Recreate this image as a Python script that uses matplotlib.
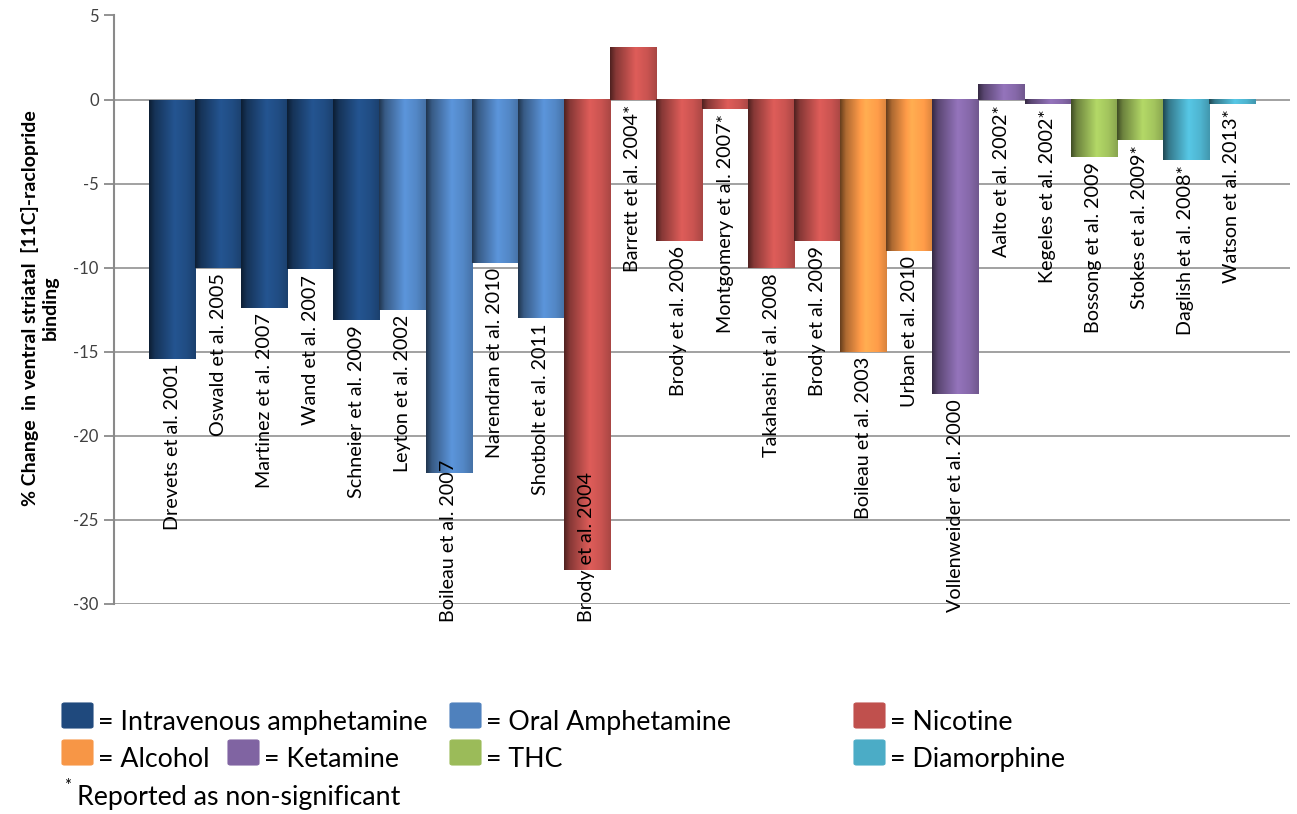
import matplotlib
matplotlib.use("Agg")
import matplotlib.pyplot as plt
import matplotlib.patches as mpatches
import numpy as np
from matplotlib.colors import to_rgb

plt.rcParams["font.family"] = ["Lato", "DejaVu Sans"]
plt.rcParams["axes.unicode_minus"] = False

# ---- data ----
studies = [
    "Drevets et al. 2001", "Oswald et al. 2005", "Martinez et al. 2007",
    "Wand et al. 2007", "Schneier et al. 2009", "Leyton et al. 2002",
    "Boileau et al. 2007", "Narendran et al. 2010", "Shotbolt et al. 2011",
    "Brody et al. 2004", "Barrett et al. 2004*", "Brody et al. 2006",
    "Montgomery et al. 2007*", "Takahashi et al. 2008", "Brody et al. 2009",
    "Boileau et al. 2003", "Urban et al. 2010", "Vollenweider et al. 2000",
    "Aalto et al. 2002*", "Kegeles et al. 2002*", "Bossong et al. 2009",
    "Stokes et al. 2009*", "Daglish et al. 2008*", "Watson et al. 2013*",
]
changes = [
    -15.4, -10.0, -12.4, -10.1, -13.1, -12.5, -22.2, -9.7, -13.0,
    -28.0, 3.1, -8.4, -0.55, -10.0, -8.4,
    -15.0, -9.0,
    -17.5, 0.9, -0.25,
    -3.4, -2.4,
    -3.6, -0.25,
]
drug_of_study = [0, 0, 0, 0, 0, 1, 1, 1, 1, 2, 2, 2, 2, 2, 2, 3, 3, 4, 4, 4, 5, 5, 6, 6]

drugs = ["Intravenous amphetamine", "Oral Amphetamine", "Nicotine", "Alcohol",
         "Ketamine", "THC", "Diamorphine"]
drug_colors = ["#1F497D", "#4F81BD", "#C0504D", "#F79646", "#8064A2", "#9BBB59", "#4BACC6"]

y_ticks = [5, 0, -5, -10, -15, -20, -25, -30]

grid_color = "#9A9A9A"
text_color = "#404040"

fig = plt.figure(figsize=(12.97, 8.14), dpi=100)
ax = fig.add_axes([114 / 1297, 210 / 814, 1176 / 1297, 588.5 / 814])

x = np.arange(len(studies))
bars = ax.bar(x, changes, width=1.0, color=[drug_colors[d] for d in drug_of_study],
              linewidth=0, zorder=2)

# cylinder-like horizontal shading on each bar
t = np.linspace(0, 1, 64)
shade = np.interp(t, [0.0, 0.12, 0.55, 0.8, 1.0], [0.42, 0.7, 1.16, 1.05, 0.88])
for bar, d in zip(bars, drug_of_study):
    base = np.array(to_rgb(drug_colors[d]))
    img = np.clip(shade[:, None] * base[None, :], 0, 1)[None, :, :]
    x0 = bar.get_x()
    h = bar.get_height()
    ax.imshow(img, extent=(x0, x0 + bar.get_width(), min(0, h), max(0, h)),
              aspect="auto", interpolation="bilinear", zorder=3)

ax.set_xlim(-1.26, 24.26)
ax.set_ylim(-30, 5)
ax.set_yticks(y_ticks)
ax.set_yticklabels([str(v) for v in y_ticks])
ax.set_xticks([])
ax.yaxis.grid(True, color=grid_color, linewidth=1.3, zorder=1)
ax.set_axisbelow(True)
for side in ["top", "right", "bottom"]:
    ax.spines[side].set_visible(False)
ax.spines["left"].set_color("#8A8A8A")
ax.spines["left"].set_linewidth(1.5)
ax.tick_params(axis="y", length=7, width=1.3, color="#8A8A8A", labelsize=12,
               labelcolor=text_color, pad=4)

# study labels, hanging below the bar end (or below zero for positive bars)
labels = []
for xi, name, val in zip(x, studies, changes):
    y0 = min(val, 0) - 0.32
    txt = ax.text(xi, y0, name, rotation=90, ha="center", va="top",
                  fontsize=14.2, color="black", zorder=5, clip_on=False)
    labels.append(txt)

fig.canvas.draw()
renderer = fig.canvas.get_renderer()
y_floor = -31.07
floor_disp = ax.transData.transform((0, y_floor))[1]
for txt in labels:
    bb = txt.get_window_extent(renderer)
    if bb.y0 < floor_disp:
        txt.set_y(y_floor)
        txt.set_va("bottom")

fig.text(40 / 1297, 1 - 308 / 814,
         "% Change  in ventral striatal  [11C]-raclopride\nbinding",
         rotation=90, ha="center", va="center", multialignment="center",
         fontsize=14, fontweight="bold", color="black", linespacing=1.15)

# hand-built key under the chart
key_layout = [
    (0, 62, 730), (1, 450, 730), (2, 854, 730),
    (3, 62, 767), (4, 228, 767), (5, 450, 767), (6, 854, 767),
]
for d, px, base_px in key_layout:
    rect = mpatches.FancyBboxPatch(
        (px / 1297, 1 - (base_px - 2) / 814), 31 / 1297, 25 / 814,
        boxstyle="round,pad=0,rounding_size=0.002",
        transform=fig.transFigure, facecolor=drug_colors[d],
        edgecolor=drug_colors[d], linewidth=0.8)
    fig.patches.append(rect)
    fig.text((px + 36) / 1297, 1 - base_px / 814, "= " + drugs[d],
             ha="left", va="baseline", fontsize=19.3, color="black")

fig.text(64 / 1297, 1 - 791 / 814, "*", ha="left", va="baseline", fontsize=12, color="black")
fig.text(77 / 1297, 1 - 805 / 814, "Reported as non-significant", ha="left",
         va="baseline", fontsize=19.3, color="black")

fig.savefig("out.png", dpi=100)
